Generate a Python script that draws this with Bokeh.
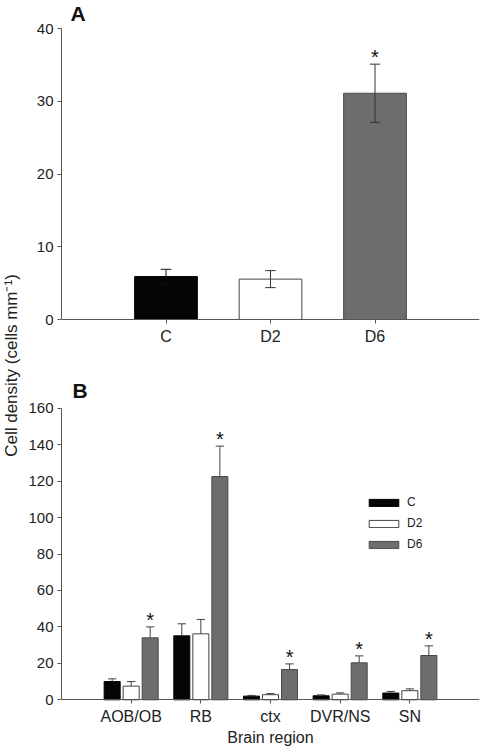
from math import pi
from bokeh.plotting import figure
from bokeh.models import Range1d, FixedTicker, Label, Legend, LegendItem
from bokeh.layouts import row, column
from bokeh.embed import file_html
from bokeh.resources import INLINE
from bokeh.core.properties import value

# ---------------- data ----------------
groups_a = ["C", "D2", "D6"]
means_a = [5.9, 5.55, 31.1]
errs_a = [1.0, 1.17, 4.0]
sig_a = [False, False, True]
yticks_a = [0, 10, 20, 30, 40]

regions = ["AOB/OB", "RB", "ctx", "DVR/NS", "SN"]
c_vals = [10.0, 35.1, 2.0, 2.2, 3.7]
c_errs = [1.5, 6.6, 0.4, 0.5, 0.9]
d2_vals = [7.5, 36.2, 2.8, 3.1, 5.0]
d2_errs = [2.5, 7.9, 0.6, 0.7, 1.0]
d6_vals = [34.0, 122.5, 16.6, 20.3, 24.3]
d6_errs = [6.0, 16.7, 3.1, 3.8, 5.3]
sig_b = [True, True, True, True, True]
yticks_b = [0, 20, 40, 60, 80, 100, 120, 140, 160]

series_names = ["C", "D2", "D6"]

# ---------------- style ----------------
FONT = "Liberation Sans"
FILL = {"C": "#050505", "D2": "#ffffff", "D6": "#6d6d6d"}
LINE = {"C": "#000000", "D2": "#444444", "D6": "#4a4a4a"}
ERRC = {"C": "#111111", "D2": "#333333", "D6": "#333333"}
AXIS_COLOR = "#555555"
TEXT_COLOR = "#222222"


def style_axes(p, ybounds):
    for ax in (p.xaxis[0], p.yaxis[0]):
        ax.axis_line_color = AXIS_COLOR
        ax.axis_line_width = 1
        ax.major_tick_line_color = AXIS_COLOR
        ax.major_tick_out = 4
        ax.major_tick_in = 0
        ax.minor_tick_line_color = None
        ax.major_label_text_font = FONT
        ax.major_label_text_color = TEXT_COLOR
    p.yaxis[0].major_label_text_font_size = "15px"
    p.xaxis[0].major_label_text_font_size = "16px"
    p.yaxis[0].major_label_standoff = 4
    p.xaxis[0].major_label_standoff = 4
    p.yaxis[0].bounds = ybounds
    p.xaxis[0].fixed_location = 0
    p.grid.visible = False
    p.outline_line_color = None
    p.background_fill_color = "white"
    p.border_fill_color = "white"


# ---------------- panel A ----------------
HA, ZA, PXA = 360, 319, 291 / 40.0   # figure height, zero line (px from top), px per unit
pA = figure(width=462, height=HA, x_range=Range1d(0, 4),
            y_range=Range1d(-(HA - ZA) / PXA, ZA / PXA),
            output_backend="svg", toolbar_location=None,
            min_border_left=39, min_border_right=5, min_border_top=0, min_border_bottom=0)
style_axes(pA, (0, 40))
xa = [i + 1 for i in range(len(groups_a))]
pA.vbar(x=xa, top=means_a, width=0.6,
        fill_color=[FILL[g] for g in groups_a], line_color=[LINE[g] for g in groups_a], line_width=1)
lo_a = [m - e for m, e in zip(means_a, errs_a)]
hi_a = [m + e for m, e in zip(means_a, errs_a)]
ecol_a = [ERRC[g] for g in groups_a]
cw_a = 0.05
pA.segment(x0=xa, y0=lo_a, x1=xa, y1=hi_a, line_color=ecol_a, line_width=1)
pA.segment(x0=[x - cw_a for x in xa], y0=hi_a, x1=[x + cw_a for x in xa], y1=hi_a, line_color=ecol_a, line_width=1)
pA.segment(x0=[x - cw_a for x in xa], y0=lo_a, x1=[x + cw_a for x in xa], y1=lo_a, line_color=ecol_a, line_width=1)
pA.text(x=[x for x, s in zip(xa, sig_a) if s], y=[h for h, s in zip(hi_a, sig_a) if s],
        text=["*"] * sum(sig_a), text_align="center", text_baseline="alphabetic", y_offset=-7,
        text_font=value(FONT), text_font_size="20px", text_color="#111111")
pA.xaxis[0].ticker = FixedTicker(ticks=xa)
pA.xaxis[0].major_label_overrides = {x: g for x, g in zip(xa, groups_a)}
pA.yaxis[0].ticker = FixedTicker(ticks=yticks_a)
pA.add_layout(Label(x=0.086, y=(ZA - 12.5) / PXA, text="A", text_font=FONT, text_font_style="bold",
                    text_font_size="21px", text_baseline="middle", text_align="left",
                    text_color="#111111"))

# ---------------- panel B ----------------
HB, ZB, PXB = 388, 339.3, 291.6 / 160.0
pB = figure(width=462, height=HB, x_range=Range1d(0, 6),
            y_range=Range1d(-(HB - ZB) / PXB, ZB / PXB),
            output_backend="svg", toolbar_location=None,
            min_border_left=39, min_border_right=5, min_border_top=0, min_border_bottom=0)
style_axes(pB, (0, 160))
xb = [i + 1 for i in range(len(regions))]
offsets = {"C": -0.273, "D2": 0.0, "D6": 0.273}
vals = {"C": c_vals, "D2": d2_vals, "D6": d6_vals}
errs = {"C": c_errs, "D2": d2_errs, "D6": d6_errs}
cw_b = 0.06
renderers = {}
for s in series_names:
    xs = [x + offsets[s] for x in xb]
    renderers[s] = pB.vbar(x=xs, top=vals[s], width=0.23, fill_color=FILL[s],
                           line_color=LINE[s], line_width=1)
    hi = [v + e for v, e in zip(vals[s], errs[s])]
    pB.segment(x0=xs, y0=vals[s], x1=xs, y1=hi, line_color="#444444", line_width=1)
    pB.segment(x0=[x - cw_b for x in xs], y0=hi, x1=[x + cw_b for x in xs], y1=hi,
               line_color="#444444", line_width=1)
    if s == "D6":
        pB.text(x=[x for x, g in zip(xs, sig_b) if g], y=[h for h, g in zip(hi, sig_b) if g],
                text=["*"] * sum(sig_b), text_align="center", text_baseline="alphabetic", y_offset=-7,
                text_font=value(FONT), text_font_size="20px", text_color="#111111")
pB.xaxis[0].ticker = FixedTicker(ticks=xb)
pB.xaxis[0].major_label_overrides = {x: r for x, r in zip(xb, regions)}
pB.yaxis[0].ticker = FixedTicker(ticks=yticks_b)

legend = Legend(items=[LegendItem(label=s, renderers=[renderers[s]]) for s in series_names],
                location=(304, 197), orientation="vertical",
                glyph_width=37, glyph_height=9, label_height=13, spacing=7,
                label_standoff=5, padding=0, margin=0,
                label_text_font=FONT, label_text_font_size="12px", label_text_color=TEXT_COLOR,
                border_line_color=None, background_fill_alpha=0)
pB.add_layout(legend)
pB.add_layout(Label(x=0.158, y=(ZB - 29.5) / PXB, text="B", text_font=FONT, text_font_style="bold",
                    text_font_size="21px", text_baseline="middle", text_align="left",
                    text_color="#111111"))
pB.add_layout(Label(x=3, y=-(385.0 - ZB) / PXB, text="Brain region", text_font=FONT,
                    text_font_size="16px", text_align="center", text_baseline="bottom",
                    text_color=TEXT_COLOR))

# ---------------- shared y label ----------------
pL = figure(width=22, height=748, x_range=Range1d(0, 1), y_range=Range1d(0, 1),
            output_backend="svg", toolbar_location=None, x_axis_type=None, y_axis_type=None,
            min_border=0)
pL.outline_line_color = None
pL.grid.visible = False
pL.add_layout(Label(x=0.5, y=(748 - 365) / 748, angle=pi / 2, text="Cell density (cells mm⁻¹)",
                    text_font=FONT, text_font_size="17px", text_align="center",
                    text_baseline="middle", text_color=TEXT_COLOR))

layout = row(pL, column(pA, pB, spacing=0), spacing=0)
open("out.html", "w").write(file_html(layout, INLINE))
